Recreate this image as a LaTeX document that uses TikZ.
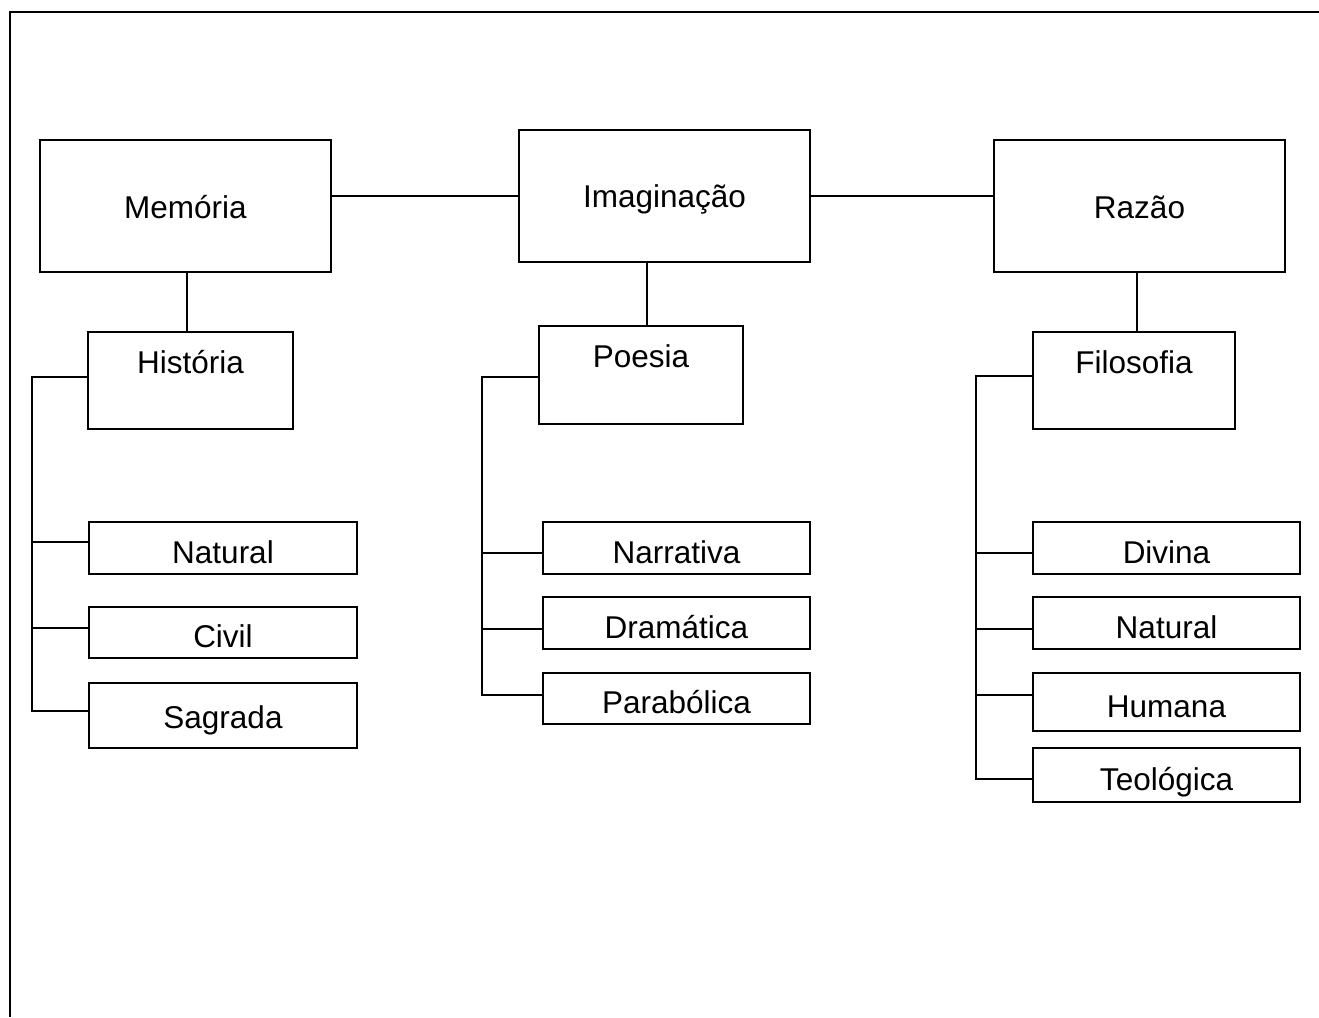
\documentclass[tikz,border=0pt]{standalone}
\usepackage{fontspec}
\setmainfont{Liberation Sans}
\begin{document}
\begin{tikzpicture}[x=1pt,y=-1pt,
  every node/.style={font=\fontsize{31.5pt}{36pt}\selectfont},
  box/.style={draw, line width=2pt, rectangle, inner sep=0pt, text height=23pt, text depth=0pt},
  bigbox/.style={box, minimum width=291pt, minimum height=132pt},
  midbox/.style={box, text depth=38pt},
  leaf/.style={box, text height=30pt, minimum width=267pt, minimum height=52pt},
  conn/.style={line width=2pt}]
\useasboundingbox (0,0) rectangle (1319,1017);
% frame
\draw[line width=2.5pt] (10,1017) -- (10,12) -- (1319,12);
% top level
\node[bigbox, text height=24.5pt] (mem) at (185.5,206) {Memória};
\node[bigbox] (imag) at (664.5,196) {Imaginação};
\node[bigbox, text height=24.5pt] (raz) at (1139.5,206) {Razão};
% second level
\node[midbox, minimum width=205pt, minimum height=97pt] (hist) at (190.5,380.5) {História};
\node[midbox, minimum width=204pt, minimum height=98pt] (poe) at (641,375) {Poesia};
\node[midbox, minimum width=202pt, minimum height=97pt] (fil) at (1134,380.5) {Filosofia};
% leaves left
\node[leaf, minimum width=268pt] (natA) at (223,548) {Natural};
\node[leaf, minimum width=268pt, minimum height=51pt] (civ) at (223,632) {Civil};
\node[leaf, minimum width=268pt, minimum height=65pt, text height=26pt] (sag) at (223,715.5) {Sagrada};
% leaves middle
\node[leaf] (nar) at (676.5,548) {Narrativa};
\node[leaf] (dra) at (676.5,623) {Dramática};
\node[leaf, minimum height=51pt] (par) at (676.5,698.5) {Parabólica};
% leaves right
\node[leaf] (div) at (1166.5,548) {Divina};
\node[leaf] (natB) at (1166.5,623) {Natural};
\node[leaf, minimum height=58pt] (hum) at (1166.5,702) {Humana};
\node[leaf, minimum height=54pt] (teo) at (1166.5,775) {Teológica};
% spine coordinates
\coordinate (lx) at (32,377);
\coordinate (mx) at (482,377);
\coordinate (rx) at (976,376);
\coordinate (sagw) at ([yshift=4.5pt]sag.west);
\coordinate (parw) at ([yshift=3.5pt]par.west);
\coordinate (teow) at ([yshift=-4pt]teo.west);
% top connectors
\draw[conn] (imag.west) -- (imag.west -| mem.east);
\draw[conn] (imag.east) -- (imag.east -| raz.west);
\draw[conn] ([xshift=1.5pt]mem.south) -- ([xshift=1.5pt]mem.south |- hist.north);
\draw[conn] ([xshift=6pt]poe.north) -- ([xshift=6pt]poe.north |- imag.south);
\draw[conn] ([xshift=-2.5pt]raz.south) -- ([xshift=-2.5pt]raz.south |- fil.north);
% left branch
\draw[conn] (hist.west |- lx) -- (lx) -- (lx |- sagw) -- (sagw);
\draw[conn] ([yshift=6pt]natA.west) -- ([yshift=6pt]natA.west -| lx);
\draw[conn] ([yshift=4pt]civ.west) -- ([yshift=4pt]civ.west -| lx);
% middle branch
\draw[conn] (poe.west |- mx) -- (mx) -- (mx |- parw) -- (parw);
\draw[conn] ([yshift=-5pt]nar.west) -- ([yshift=-5pt]nar.west -| mx);
\draw[conn] ([yshift=-6pt]dra.west) -- ([yshift=-6pt]dra.west -| mx);
% right branch
\draw[conn] (fil.west |- rx) -- (rx) -- (rx |- teow) -- (teow);
\draw[conn] ([yshift=-5pt]div.west) -- ([yshift=-5pt]div.west -| rx);
\draw[conn] ([yshift=-6pt]natB.west) -- ([yshift=-6pt]natB.west -| rx);
\draw[conn] ([yshift=7pt]hum.west) -- ([yshift=7pt]hum.west -| rx);
\end{tikzpicture}
\end{document}
